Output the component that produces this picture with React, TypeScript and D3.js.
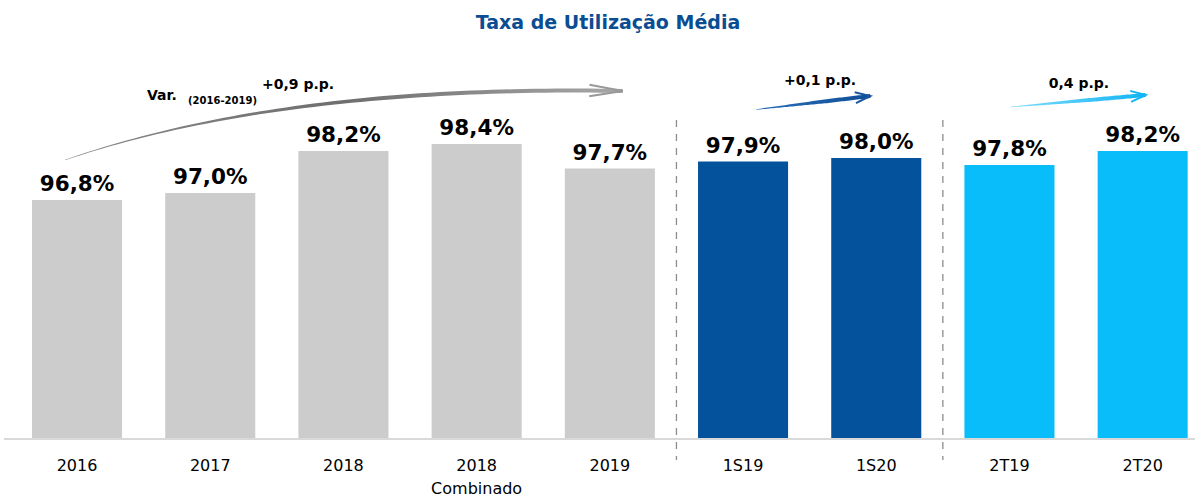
import React from "react";
import * as d3 from "d3";

const categories = ["2016", "2017", "2018", "2018", "2019", "1S19", "1S20", "2T19", "2T20"];
const subLabels = ["", "", "", "Combinado", "", "", "", "", ""];
const values = [96.8, 97.0, 98.2, 98.4, 97.7, 97.9, 98.0, 97.8, 98.2];
const valueLabels = ["96,8%", "97,0%", "98,2%", "98,4%", "97,7%", "97,9%", "98,0%", "97,8%", "98,2%"];
const groups = ["g", "g", "g", "g", "g", "d", "d", "l", "l"];
const title = "Taxa de Utilização Média";

const W = 1195;
const H = 497;
const COLORS: Record<string, string> = { g: "#cccccc", d: "#04529b", l: "#08bdfa" };
const FONT = "'DejaVu Sans', Verdana, sans-serif";

type P = [number, number];

function taperedQuad(s: P, c: P, e: P, w0: number, w1: number) {
  const n = 60;
  const left: P[] = [];
  const right: P[] = [];
  for (let k = 0; k <= n; k++) {
    const t = k / n;
    const px = (1 - t) * (1 - t) * s[0] + 2 * (1 - t) * t * c[0] + t * t * e[0];
    const py = (1 - t) * (1 - t) * s[1] + 2 * (1 - t) * t * c[1] + t * t * e[1];
    const dx = 2 * (1 - t) * (c[0] - s[0]) + 2 * t * (e[0] - c[0]);
    const dy = 2 * (1 - t) * (c[1] - s[1]) + 2 * t * (e[1] - c[1]);
    const len = Math.hypot(dx, dy) || 1;
    const nx = -dy / len;
    const ny = dx / len;
    const w = (w0 + (w1 - w0) * Math.min(1, t * 1.6)) / 2;
    left.push([px + nx * w, py + ny * w]);
    right.push([px - nx * w, py - ny * w]);
  }
  const pts = left.concat(right.reverse());
  return "M" + pts.map((p) => p[0].toFixed(2) + "," + p[1].toFixed(2)).join("L") + "Z";
}

export default function App() {
  const x = d3
    .scaleBand<number>()
    .domain(d3.range(categories.length))
    .range([18.7, 1201])
    .paddingInner(0.324)
    .paddingOuter(0.1);
  const y = d3.scaleLinear().domain([90, 100]).range([438, 88]);
  const bw = x.bandwidth();
  const cx = (i: number) => (x(i) as number) + bw / 2;

  const sep1 = ((x(4) as number) + bw + (x(5) as number)) / 2;
  const sep2 = ((x(6) as number) + bw + (x(7) as number)) / 2;

  // gray curved arrow
  const gStart: P = [x(0)! + 33, y(values[0]) - 40];
  const gEnd: P = [cx(4) + 13, y(values[3]) - 53];
  const gCtrl: P = [cx(2) - 60, gEnd[1] - 6];

  const arrowHead = (end: P, ang: number, len: number, spread: number) => {
    const a1 = ang + Math.PI - spread;
    const a2 = ang + Math.PI + spread;
    return `M${end[0] + len * Math.cos(a1)},${end[1] + len * Math.sin(a1)}L${end[0]},${end[1]}L${end[0] + len * Math.cos(a2)},${end[1] + len * Math.sin(a2)}`;
  };
  const gAng = Math.atan2(gEnd[1] - gCtrl[1], gEnd[0] - gCtrl[0]);

  const bStart: P = [cx(5) + 13, y(values[5]) - 52];
  const bEnd: P = [cx(6) - 6, y(values[6]) - 62];
  const lStart: P = [cx(7) + 1, y(values[7]) - 58];
  const lEnd: P = [cx(8) + 3, y(values[8]) - 56];

  const mid = (s: P, e: P): P => [(s[0] + e[0]) / 2, (s[1] + e[1]) / 2];
  const angOf = (s: P, e: P) => Math.atan2(e[1] - s[1], e[0] - s[0]);

  return (
    <svg width={W} height={H} style={{ position: "absolute", left: 0, top: 0, background: "#fff" }}>
      <defs>
        <linearGradient id="gg" gradientUnits="userSpaceOnUse" x1={gStart[0]} y1={0} x2={gEnd[0]} y2={0}>
          <stop offset="0" stopColor="#8a8a8a" />
          <stop offset="0.5" stopColor="#6e6e6e" />
          <stop offset="1" stopColor="#a8a8a8" />
        </linearGradient>
        <linearGradient id="bg" gradientUnits="userSpaceOnUse" x1={bStart[0]} y1={0} x2={bEnd[0]} y2={0}>
          <stop offset="0" stopColor="#2a6db8" />
          <stop offset="1" stopColor="#0f4f98" />
        </linearGradient>
        <linearGradient id="lg" gradientUnits="userSpaceOnUse" x1={lStart[0]} y1={0} x2={lEnd[0]} y2={0}>
          <stop offset="0" stopColor="#7fdcfc" />
          <stop offset="1" stopColor="#10b4f4" />
        </linearGradient>
      </defs>

      <text x={608} y={29} textAnchor="middle" fontFamily={FONT} fontWeight="bold" fontSize={19} fill="#0a4d93">
        {title}
      </text>

      {/* bars */}
      {values.map((v, i) => (
        <rect key={"b" + i} x={x(i)} y={y(v)} width={bw} height={y(90) - y(v)} fill={COLORS[groups[i]]} />
      ))}

      {/* axis line */}
      <line x1={4} x2={W} y1={439} y2={439} stroke="#d9d9d9" strokeWidth={2} />

      {/* separators */}
      {[sep1, sep2].map((s, i) => (
        <line key={"s" + i} x1={s} x2={s} y1={120} y2={460} stroke="#8c8c8c" strokeWidth={1.3} strokeDasharray="7,7" />
      ))}

      {/* value labels */}
      {values.map((v, i) => (
        <text key={"v" + i} x={cx(i)} y={y(v) - 9} textAnchor="middle" fontFamily={FONT} fontWeight="bold" fontSize={21.5} fill="#000">
          {valueLabels[i]}
        </text>
      ))}

      {/* tick labels */}
      {categories.map((c, i) => (
        <g key={"t" + i}>
          <text x={cx(i)} y={471} textAnchor="middle" fontFamily={FONT} fontSize={16} fill="#000">
            {c}
          </text>
          {subLabels[i] && (
            <text x={cx(i)} y={494} textAnchor="middle" fontFamily={FONT} fontSize={16} fill="#000">
              {subLabels[i]}
            </text>
          )}
        </g>
      ))}

      {/* gray arrow */}
      <path d={taperedQuad(gStart, gCtrl, gEnd, 0.6, 4)} fill="url(#gg)" />
      <path d={arrowHead(gEnd, gAng, 34, 0.17)} fill="none" stroke="#999" strokeWidth={2} />
      <text fontFamily={FONT} fontWeight="bold" fill="#000">
        <tspan x={147} y={100} fontSize={14}>Var.</tspan>
        <tspan x={188} y={104} fontSize={10}>(2016-2019)</tspan>
        <tspan x={262} y={89} fontSize={14}>+0,9 p.p.</tspan>
      </text>

      {/* blue arrow */}
      <path d={taperedQuad(bStart, mid(bStart, bEnd), bEnd, 0.6, 4)} fill="url(#bg)" />
      <path d={arrowHead(bEnd, angOf(bStart, bEnd), 16, 0.35)} fill="none" stroke="#1856a0" strokeWidth={2} />
      <text x={820} y={85} textAnchor="middle" fontFamily={FONT} fontWeight="bold" fontSize={14} fill="#000">
        +0,1 p.p.
      </text>

      {/* light blue arrow */}
      <path d={taperedQuad(lStart, mid(lStart, lEnd), lEnd, 0.6, 4)} fill="url(#lg)" />
      <path d={arrowHead(lEnd, angOf(lStart, lEnd), 16, 0.35)} fill="none" stroke="#14b6f5" strokeWidth={2} />
      <text x={1079} y={88} textAnchor="middle" fontFamily={FONT} fontWeight="bold" fontSize={14} fill="#000">
        0,4 p.p.
      </text>
    </svg>
  );
}
